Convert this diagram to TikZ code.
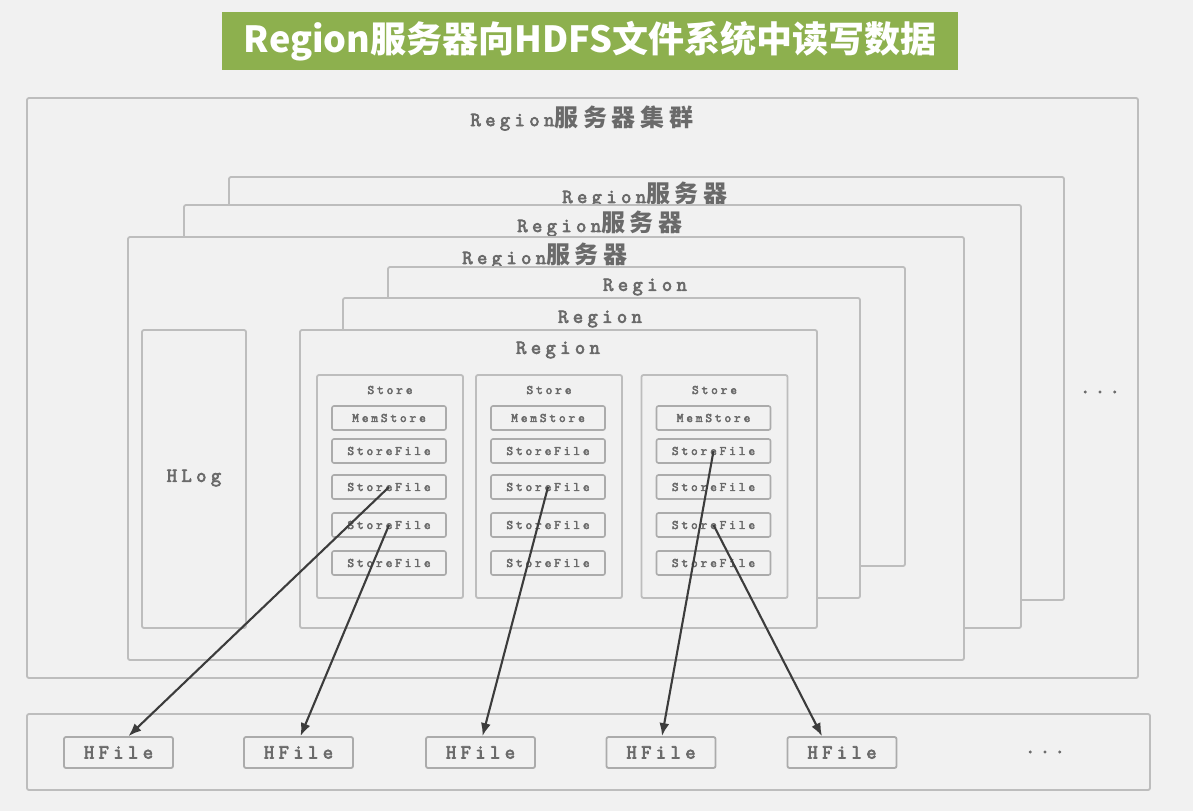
\documentclass[tikz,border=0pt]{standalone}
\usepackage{fontspec}
\usetikzlibrary{arrows.meta,calc}
\newfontfamily\cjk{Noto Sans CJK SC}
\newfontfamily\cjkl[LetterSpace=20]{Noto Sans CJK SC}
\newfontfamily\lab[LetterSpace=22,FakeBold=3.5]{Latin Modern Mono}
\newcommand{\zh}[1]{{\cjkl\bfseries\fontsize{24}{24}\selectfont #1}}
\definecolor{bg}{HTML}{F1F1F1}
\definecolor{ttl}{HTML}{8DB04E}
\definecolor{edge}{HTML}{BDBDBD}
\definecolor{iedge}{HTML}{ABABAB}
\definecolor{txt}{HTML}{6A6A6A}
\definecolor{arr}{HTML}{3C3C3C}
\begin{document}
\begin{tikzpicture}[x=1pt,y=-1pt,
  box/.style={draw=edge, line width=1.8pt, fill=bg, rounded corners=2pt, inner sep=0pt},
  lbl/.style={text=txt, font=\lab\fontsize{20}{20}\selectfont, inner sep=0pt},
  storebox/.style={box, minimum width=146pt, minimum height=223pt},
  sflabel/.style={text=txt, font=\lab\fontsize{13}{13}\selectfont, inner sep=0pt},
  filebox/.style={draw=iedge, line width=1.6pt, fill=bg, rounded corners=2pt, inner sep=0pt,
    minimum width=114pt, minimum height=24pt, text=txt, font=\lab\fontsize{13}{13}\selectfont},
  hfile/.style={draw=iedge, line width=1.8pt, fill=bg, rounded corners=2pt, inner sep=0pt,
    minimum width=109pt, minimum height=31pt, text=txt, font=\lab\fontsize{20}{20}\selectfont},
  arrow/.style={draw=arr, line width=2.1pt, -{Latex[length=13pt,width=10pt]}}
]
\fill[bg] (0,0) rectangle (1193,811);
\useasboundingbox (0,0) rectangle (1193,811);

% title
\node[fill=ttl, minimum width=736pt, minimum height=58pt, inner sep=0pt, text=white,
  font=\cjk\bfseries\fontsize{36}{36}\selectfont] (title) at (590,41) {Region服务器向HDFS文件系统中读写数据};

% cluster
\node[box, minimum width=1111pt, minimum height=580pt] (cluster) at (582.5,388) {};
\node[lbl] (clusterlbl) at (582,118) {Region\zh{服务器集群}};
\node[lbl] (dots1) at (1100,392) {...};

% servers
\node[box, minimum width=835pt, minimum height=423pt] (srv3) at (646.5,388.5) {};
\node[lbl] (srv3lbl) at (645,195) {Region\zh{服务器}};
\node[box, minimum width=837pt, minimum height=423pt] (srv2) at (602.5,416.5) {};
\node[lbl] (srv2lbl) at (600,224) {Region\zh{服务器}};
\node[box, minimum width=836pt, minimum height=423pt] (srv1) at (546,448.5) {};
\node[lbl] (srv1lbl) at (545,256) {Region\zh{服务器}};

% regions
\node[box, minimum width=517pt, minimum height=299pt] (reg3) at (646.5,416.5) {};
\node[lbl] (reg3lbl) at (645,287) {Region};
\node[box, minimum width=517pt, minimum height=300pt] (reg2) at (601.5,448) {};
\node[lbl] (reg2lbl) at (600,319) {Region};
\node[box, minimum width=517pt, minimum height=298pt] (reg1) at (558.5,479) {};
\node[lbl] (reg1lbl) at (558,350) {Region};

% HLog
\node[box, minimum width=104pt, minimum height=298pt] (hlog) at (194,479) {};
\node[lbl] (hloglbl) at (194,478) {HLog};

% stores
\foreach \i/\cx/\ix in {1/390/389, 2/549/548, 3/714.5/713.5} {
  \node[storebox] (st\i) at (\cx,486.5) {};
  \node[sflabel] (st\i lbl) at (\cx,390) {Store};
  \node[filebox] (s\i m) at (\ix,418) {MemStore};
  \node[filebox] (s\i f1) at (\ix,451) {StoreFile};
  \node[filebox] (s\i f2) at (\ix,487) {StoreFile};
  \node[filebox] (s\i f3) at (\ix,525) {StoreFile};
  \node[filebox] (s\i f4) at (\ix,563) {StoreFile};
}

% HDFS
\node[box, minimum width=1123pt, minimum height=76pt] (hdfs) at (588.5,752) {};
\node[hfile] (h1) at (118.5,752.5) {HFile};
\node[hfile] (h2) at (298.5,752.5) {HFile};
\node[hfile] (h3) at (480.5,752.5) {HFile};
\node[hfile] (h4) at (661,752.5) {HFile};
\node[hfile] (h5) at (842,752.5) {HFile};
\node[lbl] (dots2) at (1045,752) {...};

% arrows
\draw[arrow] (s1f2.center) -- ($(h1.north)+(10,0)$);
\draw[arrow] (s1f3.center) -- ($(h2.north)+(2,0)$);
\draw[arrow] (s2f2.center) -- ($(h3.north)+(2,0)$);
\draw[arrow] (s3f1.center) -- ($(h4.north)+(1,0)$);
\draw[arrow] (s3f3.center) -- ($(h5.north)+(-20,0)$);
\end{tikzpicture}
\end{document}
